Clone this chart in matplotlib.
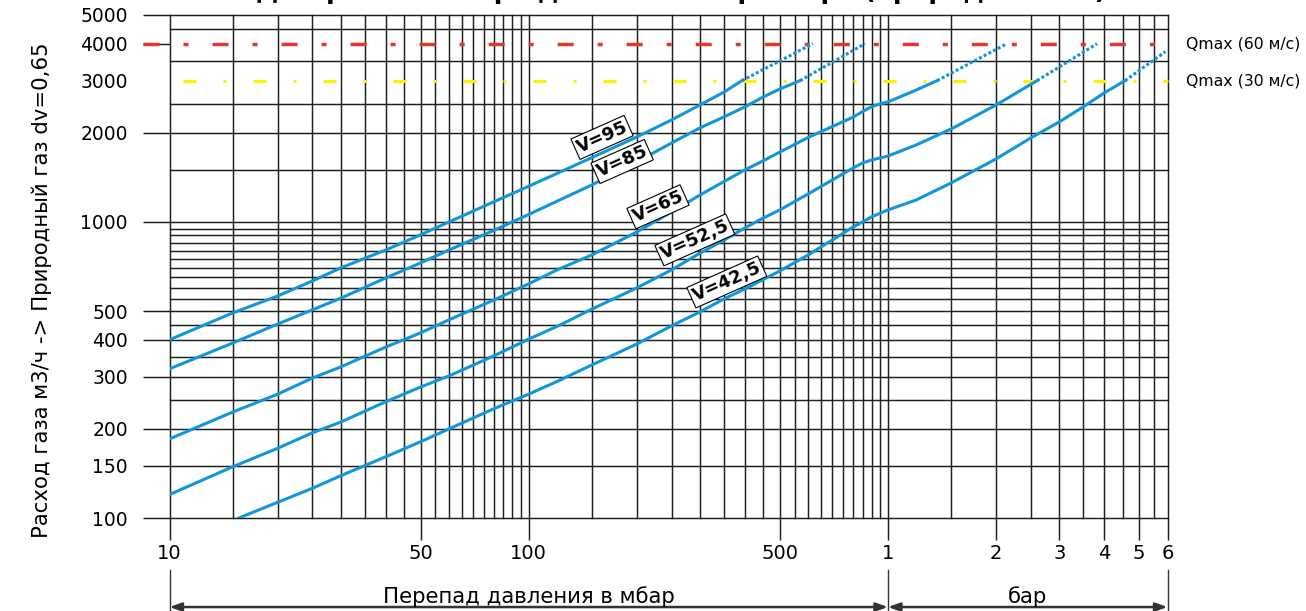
import matplotlib
matplotlib.use("Agg")
import matplotlib.pyplot as plt
from matplotlib.ticker import NullLocator

plt.rcParams['font.family'] = ['DejaVu Sans']
plt.rcParams['lines.scale_dashes'] = False

# V=95 : перепад давления (мбар) -> расход (м3/ч)
v95_dp = [10, 15, 20, 25, 30, 40, 50, 60, 80, 100, 150, 200, 250, 300, 350, 392]
v95_q = [400, 493, 562, 632, 700, 804, 905, 1000, 1170, 1320, 1650, 1937, 2212, 2486, 2748, 3000]
v95_ext_dp = [392, 618]
v95_ext_q = [3000, 4000]

# V=85
v85_dp = [10, 15, 20, 25, 30, 40, 50, 60, 80, 100, 150, 200, 250, 300, 350, 400, 450, 500, 569]
v85_q = [319, 390, 452, 505, 553, 647, 727, 804, 937, 1060, 1334, 1596, 1849, 2079, 2265, 2448, 2644, 2812, 3000]
v85_ext_dp = [569, 863]
v85_ext_q = [3000, 4000]

# V=65
v65_dp = [10, 15, 20, 25, 30, 40, 50, 60, 80, 100, 120, 150, 200, 250, 300, 350, 400, 450, 500,
          600, 700, 800, 850, 900, 950, 1000, 1200, 1370]
v65_q = [185, 228, 262, 297, 324, 378, 422, 467, 545, 618, 689, 774, 925, 1081, 1234, 1370, 1500, 1610, 1722,
         1930, 2100, 2260, 2360, 2450, 2506, 2543, 2792, 3000]
v65_ext_dp = [1370, 2143]
v65_ext_q = [3000, 4000]

# V=52,5
v52_dp = [10, 15, 20, 25, 30, 40, 50, 60, 80, 100, 122, 150, 200, 250, 300, 350, 400, 450, 500,
          600, 700, 800, 850, 900, 1000, 1200, 1500, 2000, 2600]
v52_q = [120, 149, 172, 194, 211, 247, 277, 302, 353, 402, 448, 508, 599, 689, 785, 869, 955, 1032, 1098,
         1244, 1386, 1522, 1582, 1619, 1670, 1821, 2061, 2484, 3000]
v52_ext_dp = [2600, 3820]
v52_ext_q = [3000, 4000]

# V=42,5
v42_dp = [15.6, 20, 25, 30, 40, 50, 60, 80, 100, 122, 150, 200, 250, 300, 350, 400, 500, 600, 700,
          800, 850, 900, 1000, 1200, 1500, 2000, 2500, 3000, 3500, 4000, 4570]
v42_q = [100, 113, 126, 139, 161, 181, 200, 234, 262, 292, 329, 387, 446, 497, 550, 594, 683, 774, 869,
         962, 1000, 1040, 1098, 1187, 1355, 1633, 1923, 2178, 2450, 2728, 3000]
v42_ext_dp = [4570, 5920]
v42_ext_q = [3000, 3760]

labels = ['V=95', 'V=85', 'V=65', 'V=52,5', 'V=42,5']
label_dp = [160, 182, 229, 290, 356]
label_q = [1930, 1600, 1125, 870, 627]

q_max_60 = 4000
q_max_30 = 3000

x_ticks = [10, 50, 100, 500, 1000, 2000, 3000, 4000, 5000, 6000]
x_tick_labels = ['10', '50', '100', '500', '1', '2', '3', '4', '5', '6']
y_ticks = [100, 150, 200, 300, 400, 500, 1000, 2000, 3000, 4000, 5000]

BLUE = '#1396d9'
RED = '#e2382c'
YELLOW = '#fff200'
GRID = '#1e1e1e'

fig = plt.figure(figsize=(13.06, 6.11), dpi=100)
ax = fig.add_axes([169.5 / 1306, 1 - 518 / 611, 998 / 1306, 503 / 611])
ax.set_xscale('log')
ax.set_yscale('log')
ax.set_xlim(10, 6000)
ax.set_ylim(100, 5000)
for s in ax.spines.values():
    s.set_visible(False)

# сетка: шаг 0.5 от начала декады
x_grid = list(range(10, 100, 5)) + list(range(100, 1000, 50)) + list(range(1000, 6001, 500))
y_grid = [v for v in list(range(100, 1000, 50)) + list(range(1000, 5001, 500)) if v not in (q_max_30, q_max_60)]
for v in x_grid:
    ax.axvline(v, color=GRID, lw=1.05, zorder=1, clip_on=False)
for v in y_grid:
    ax.axhline(v, color=GRID, lw=1.05, zorder=1, clip_on=False)

ax.set_xticks(x_ticks)
ax.set_xticklabels(x_tick_labels)
ax.set_yticks(y_ticks)
ax.set_yticklabels([str(v) for v in y_ticks])
ax.xaxis.set_minor_locator(NullLocator())
ax.yaxis.set_minor_locator(NullLocator())
ax.tick_params(axis='x', length=16, width=1.05, color=GRID, pad=3, labelsize=14)
ax.tick_params(axis='y', length=19.5, width=1.05, color=GRID, pad=10.5, labelsize=13.5)
for t, v in zip(ax.yaxis.get_major_ticks(), y_ticks):
    if v == q_max_30:
        t.tick1line.set_visible(False)

# линии Qmax
ax.plot([8.44, 5740], [q_max_60, q_max_60], color=RED, lw=2.5,
        dashes=(11.5, 17.3, 3.6, 17.3), dash_capstyle='butt', clip_on=False, zorder=3)
ax.plot([10.9, 6000], [q_max_30, q_max_30], color=YELLOW, lw=2.2,
        dashes=(9.4, 19.4, 2.2, 19.4), dash_capstyle='butt', clip_on=False, zorder=3)
ax.text(1.019, q_max_60, 'Qmax (60 м/с)', transform=ax.get_yaxis_transform(),
        ha='left', va='center', fontsize=11.3)
ax.text(1.019, q_max_30, 'Qmax (30 м/с)', transform=ax.get_yaxis_transform(),
        ha='left', va='center', fontsize=11.3)

curves = [
    (v95_dp, v95_q, v95_ext_dp, v95_ext_q),
    (v85_dp, v85_q, v85_ext_dp, v85_ext_q),
    (v65_dp, v65_q, v65_ext_dp, v65_ext_q),
    (v52_dp, v52_q, v52_ext_dp, v52_ext_q),
    (v42_dp, v42_q, v42_ext_dp, v42_ext_q),
]
for dp, q, dp_ext, q_ext in curves:
    ax.plot(dp, q, color=BLUE, lw=2.2, zorder=4, solid_joinstyle='round')
    ax.plot(dp_ext, q_ext, color=BLUE, lw=2.2, dashes=(2.2, 1.6), zorder=4)

for txt, x, y in zip(labels, label_dp, label_q):
    ax.text(x, y, txt, rotation=24, rotation_mode='anchor', ha='center', va='center',
            fontsize=13, fontweight='heavy', zorder=6,
            bbox=dict(boxstyle='square,pad=0.12', fc='white', ec='black', lw=0.8))

ax.set_ylabel('Расход газа м3/ч -> Природный газ dv=0,65', fontsize=15.3)
ax.yaxis.set_label_coords(-0.118, 0.453)

# размерные линии под осью
trans = ax.get_xaxis_transform()
for v in (10, 1000, 6000):
    ax.plot([v, v], [-0.103, -0.19], transform=trans, color='#333333', lw=1.0, clip_on=False)
arrow = dict(arrowstyle='<|-|>,head_length=0.7,head_width=0.25', color='#333333', lw=1.8,
             shrinkA=0, shrinkB=0, mutation_scale=10)
ax.annotate('', xy=(10, -0.177), xytext=(1000, -0.177), xycoords=trans, textcoords=trans, arrowprops=arrow)
ax.annotate('', xy=(1000, -0.177), xytext=(6000, -0.177), xycoords=trans, textcoords=trans, arrowprops=arrow)
ax.text(100, -0.168, 'Перепад давления в мбар', transform=trans, ha='center', va='baseline', fontsize=15.3)
ax.text(2449, -0.168, 'бар', transform=trans, ha='center', va='baseline', fontsize=15.3)

# заголовок, срезанный верхним краем листа
fig.text(1106 / 1306, 1.002, 'Диаграмма потери давления на фильтре (природный газ)',
         ha='right', va='baseline', fontsize=18, fontweight='bold')

fig.savefig('out.png', dpi=100)
